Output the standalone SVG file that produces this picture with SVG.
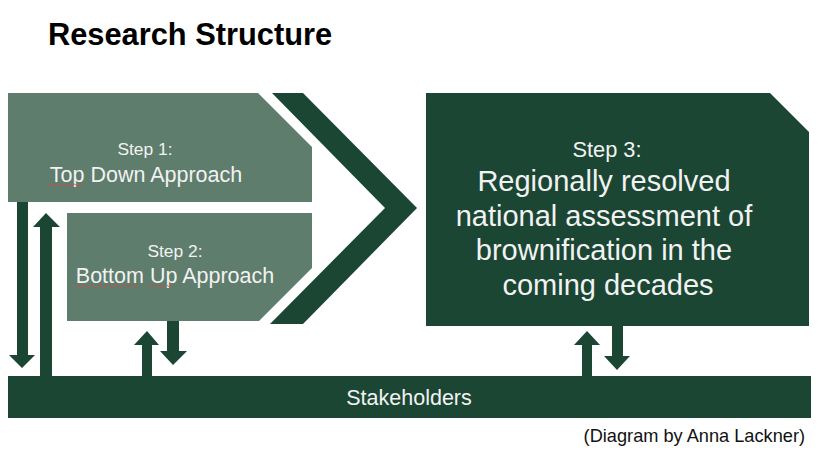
<svg xmlns="http://www.w3.org/2000/svg" width="821" height="462" viewBox="0 0 821 462">
<style>
.dark{fill:#1a4633}
.light{fill:#5e7d6c}
.t{font-family:"Liberation Sans",Arial,sans-serif;fill:#f2f2f2;text-anchor:middle}
.sq{fill:none;stroke:#d04a4a;stroke-width:1;opacity:0.8}
</style>
<rect width="821" height="462" fill="#ffffff"/>
<text x="48" y="45" font-family="'Liberation Sans',Arial,sans-serif" font-weight="bold" font-size="30.8" fill="#000">Research Structure</text>
<g id="step1">
<polygon class="light" points="8,93 258,93 312,147 312,202 8,202"/>
<text class="t" x="145" y="155" font-size="17.4">Step 1:</text>
<text class="t" x="146" y="182" font-size="21.5">Top Down Approach</text>
<path class="sq" d="M48,185 q2,-2 4,0 t4,0 t4,0 t4,0 t4,0 t4,0 t4,0 t4,0 t3,0"/>
</g>
<g id="step2">
<polygon class="light" points="67,213 312,213 312,268 259,321 67,321"/>
<text class="t" x="175" y="257" font-size="17.4">Step 2:</text>
<text class="t" x="175" y="283" font-size="21.5">Bottom Up Approach</text>
<path class="sq" d="M74,286 q2,-2 4,0 t4,0 t4,0 t4,0 t4,0 t4,0 t4,0 t4,0 t4,0 t4,0 t4,0 t4,0 t4,0 t4,0 t4,0 t4,0"/>
<path class="sq" d="M148,286 q2,-2 4,0 t4,0 t4,0 t4,0 t4,0 t4,0"/>
</g>
<g id="chevron">
<polygon class="dark" points="272,93 303,93 417,208 303,324 270,324 385,208"/>
</g>
<g id="step3">
<polygon class="dark" points="426,93 770,93 809,132 809,326 426,326"/>
<text class="t" x="607" y="157" font-size="21.8">Step 3:</text>
<text class="t" font-size="29">
<tspan x="608" y="191">Regionally resolved</tspan>
<tspan x="608" y="226">national assessment of</tspan>
<tspan x="608" y="260">brownification in the</tspan>
<tspan x="608" y="295">coming decades</tspan>
</text>
</g>
<g id="stakeholders">
<rect class="dark" x="8" y="376" width="803" height="42"/>
<text class="t" x="409" y="405" font-size="21.5">Stakeholders</text>
</g>
<g id="connectors">
<polygon class="dark" points="17,202 28,202 28,355 35,355 22,368 9,355 17,355"/>
<polygon class="dark" points="40,376 52,376 52,227 60,227 46,213 33,227 40,227"/>
<polygon class="dark" points="142,376 152,376 152,345 159,345 147,331 134,345 142,345"/>
<polygon class="dark" points="167,321 179,321 179,351 187,351 173,365 160,351 167,351"/>
<polygon class="dark" points="582,376 592,376 592,345 600,345 587,331 574,345 582,345"/>
<polygon class="dark" points="612,326 623,326 623,356 630,356 617,370 604,356 612,356"/>
</g>
<text x="805" y="442" text-anchor="end" font-family="'Liberation Sans',Arial,sans-serif" font-size="18.2" fill="#111">(Diagram by Anna Lackner)</text>
</svg>
